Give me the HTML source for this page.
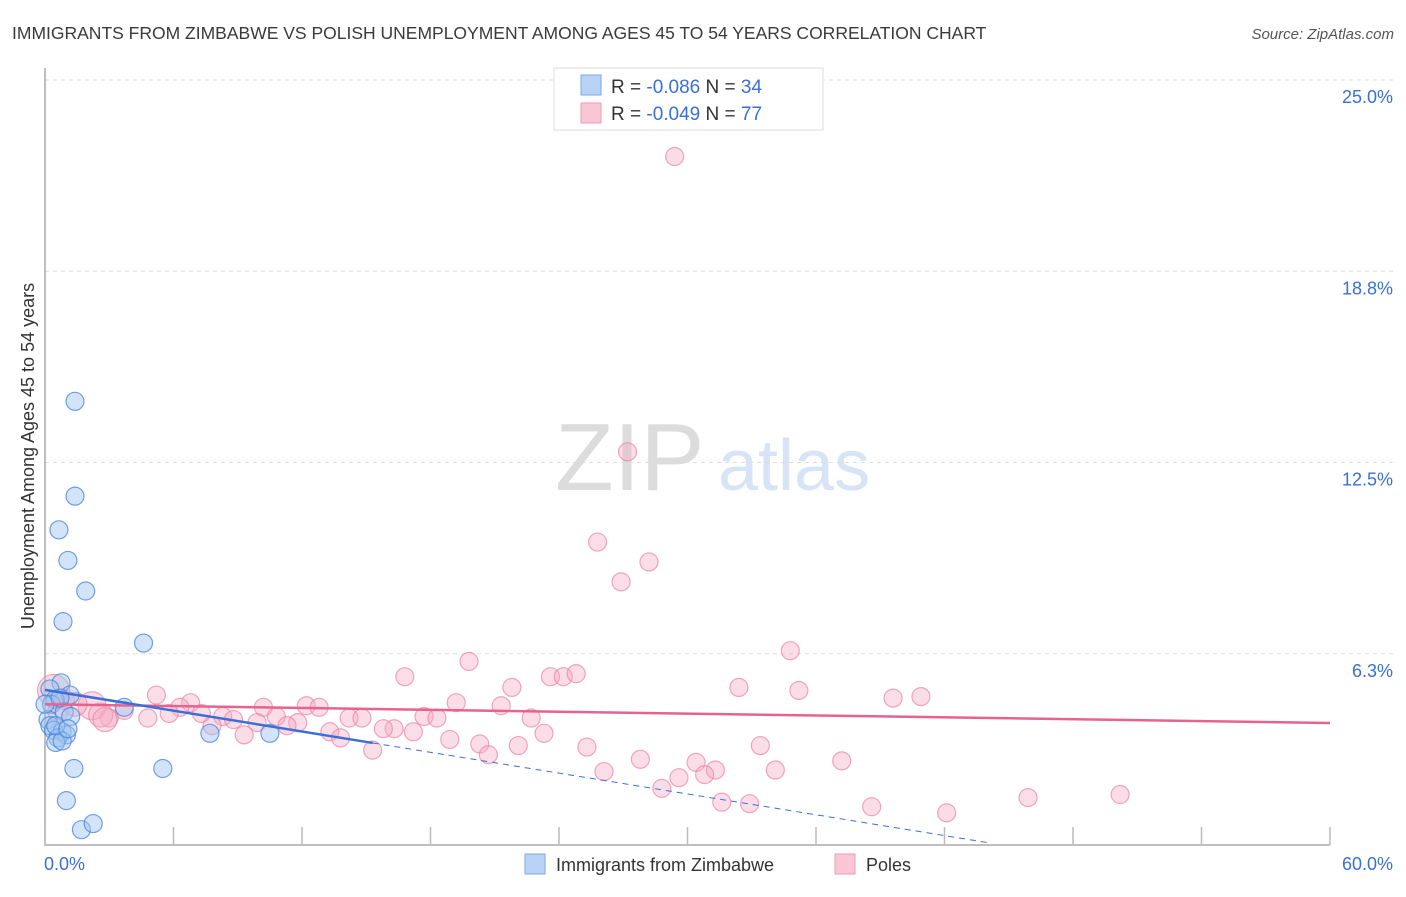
<!DOCTYPE html>
<html><head><meta charset="utf-8"><style>
body{margin:0;background:#fff;font-family:"Liberation Sans",sans-serif}
svg text{font-family:"Liberation Sans",sans-serif}
</style></head><body>
<svg id="chart" width="1406" height="892" xmlns="http://www.w3.org/2000/svg">
<text x="12" y="39" font-size="17.5" fill="#3a3a3a">IMMIGRANTS FROM ZIMBABWE VS POLISH UNEMPLOYMENT AMONG AGES 45 TO 54 YEARS CORRELATION CHART</text>
<text x="1394" y="39" font-size="15" fill="#555" text-anchor="end" font-style="italic">Source: ZipAtlas.com</text>
<g>
<text x="555" y="490" font-size="96" fill="#dcdcdc" font-family="Liberation Serif">ZIP</text>
<text x="718" y="490" font-size="72" fill="#d6e4f6">atlas</text>
</g>
<text transform="translate(34,456) rotate(-90)" font-size="18" fill="#333" text-anchor="middle">Unemployment Among Ages 45 to 54 years</text>
<g id="grid"></g>
<g id="pts"></g>
<g id="lines"></g>
<g>
<rect x="554" y="68" width="269" height="62" fill="#fff" stroke="#ddd"/>
<rect x="581" y="75" width="20" height="20" fill="#b8d3f5" stroke="#7aa8e6"/>
<rect x="581" y="103" width="20" height="20" fill="#f9c6d6" stroke="#ee9ab6"/>
<text x="611" y="93" font-size="19" fill="#333">R = <tspan fill="#3a6fd8">-0.086</tspan>   N = <tspan fill="#3a6fd8">34</tspan></text>
<text x="611" y="120" font-size="19" fill="#333">R = <tspan fill="#3a6fd8">-0.049</tspan>   N = <tspan fill="#3a6fd8">77</tspan></text>
</g>
<g>
<rect x="525" y="854" width="20" height="20" fill="#b8d3f5" stroke="#7aa8e6"/>
<text x="556" y="871" font-size="18" fill="#333">Immigrants from Zimbabwe</text>
<rect x="835" y="854" width="20" height="20" fill="#f9c6d6" stroke="#ee9ab6"/>
<text x="866" y="871" font-size="18" fill="#333">Poles</text>
</g>
</svg>
<script>
const yTicks=[6.25,12.5,18.75,25];
const yTickLabels=["6.3%","12.5%","18.8%","25.0%"];
const xTickVals=[0,6,12,18,24,30,36,42,48,54,60];
const blueX=[1.4,1.4,0.65,1.07,1.9,0.84,4.6,0.75,1.17,0.23,0.47,0.3,3.7,0.14,0.23,0.4,0.8,1.0,0.6,0.5,0.8,7.7,10.5,1.35,5.5,1.0,1.7,2.25,0.9,1.2,0,0.7,0.5,1.07];
const blueY=[14.5,11.4,10.3,9.3,8.3,7.3,6.6,5.3,4.9,5.1,4.75,4.6,4.5,4.1,3.9,3.75,3.7,3.6,3.5,3.35,3.4,3.65,3.65,2.5,2.5,1.45,0.5,0.7,4.35,4.2,4.6,4.8,3.9,3.8];
const pinkX=[29.4,27.2,25.8,28.2,26.9,19.8,34.8,16.8,23.6,24.2,24.8,21.8,32.4,35.2,39.6,40.9,19.2,21.3,5.2,6.8,6.3,10.2,12.2,12.8,2.2,3.7,5.8,7.3,8.3,10.8,11.8,14.2,14.8,17.7,18.3,22.7,4.8,8.8,9.9,11.3,7.8,3.0,16.3,17.2,15.8,13.3,9.3,13.8,23.3,18.9,20.3,22.1,15.3,25.3,20.7,27.8,30.4,33.4,37.2,26.1,31.3,30.8,34.1,29.6,28.8,31.6,32.9,38.6,42.1,45.9,50.2,0.4,1.4,2.6,0.9,0.6,2.8];
const pinkY=[22.5,12.85,9.9,9.25,8.6,6.0,6.35,5.5,5.5,5.5,5.6,5.15,5.15,5.05,4.8,4.85,4.65,4.55,4.9,4.65,4.5,4.5,4.55,4.5,4.55,4.4,4.3,4.3,4.2,4.2,4.0,4.15,4.15,4.2,4.15,4.15,4.15,4.1,4.0,3.9,3.9,4.15,3.8,3.7,3.8,3.7,3.6,3.5,3.65,3.45,3.3,3.25,3.1,3.2,2.95,2.8,2.7,3.25,2.75,2.4,2.45,2.3,2.45,2.2,1.85,1.4,1.35,1.25,1.05,1.55,1.65,5.05,4.6,4.25,4.75,4.35,4.1];
const pinkR=[9,9,9,9,9,9,9,9,9,9,9,9,9,9,9,9,9,9,9,9,9,9,9,9,14,9,9,9,9,9,9,9,9,9,9,9,9,9,9,9,9,9,9,9,9,9,9,9,9,9,9,9,9,9,9,9,9,9,9,9,9,9,9,9,9,9,9,9,9,9,9,16,12,12,10,10,12];
const blueTrend=[5.07,-0.1134];
const pinkTrend=[4.6,-0.0102];
const NS="http://www.w3.org/2000/svg";
const X0=45,X1=1330,Y0=845,Y25=80;
function sx(v){return X0+v*(X1-X0)/60;}
function sy(v){return Y0-v*(Y0-Y25)/25;}
function mk(tag,attrs,parent){const e=document.createElementNS(NS,tag);for(const k in attrs)e.setAttribute(k,attrs[k]);parent.appendChild(e);return e;}
const grid=document.getElementById('grid');
yTicks.forEach((t,i)=>{
 const l=mk('line',{x1:X0,x2:1395,y1:sy(t),y2:sy(t),stroke:'#ddd','stroke-dasharray':'4,4'},grid);
 
 
 const tx=mk('text',{x:1393,y:sy(t)+23,'font-size':18,fill:'#3a6fd8','text-anchor':'end'},grid);
 tx.textContent=yTickLabels[i];
 
 
});
const ax=mk('path',{d:`M${X0},68 V${Y0} H${X1}`,fill:'none',stroke:'#aaa','stroke-width':1.5},grid);


xTickVals.forEach(t=>{
 const l=mk('line',{x1:sx(t),x2:sx(t),y1:Y0-18,y2:Y0,stroke:'#bbb','stroke-width':1.5},grid);
 
 
});
const xl0=mk('text',{x:44,y:870,'font-size':18,fill:'#3a6fd8'},grid);xl0.textContent='0.0%';


const xl1=mk('text',{x:1393,y:870,'font-size':18,fill:'#3a6fd8','text-anchor':'end'},grid);xl1.textContent='60.0%';


const pts=document.getElementById('pts');
pinkX.forEach((v,i)=>{
 const c=mk('circle',{cx:sx(v),cy:sy(pinkY[i]),r:pinkR[i],fill:'rgba(246,170,195,0.4)',stroke:'rgba(235,130,165,0.7)','stroke-width':1.2},pts);
 
 
});
blueX.forEach((v,i)=>{
 const c=mk('circle',{cx:sx(v),cy:sy(blueY[i]),r:9,fill:'rgba(160,196,240,0.45)',stroke:'rgba(70,130,220,0.75)','stroke-width':1.2},pts);
 
 
});
const lines=document.getElementById('lines');
const pl=mk('line',{x1:sx(0),y1:sy(pinkTrend[0]),x2:sx(60),y2:sy(pinkTrend[0]+pinkTrend[1]*60),stroke:'#e8628e','stroke-width':2.5},lines);


const bEnd=15.3, bDash=44.1;
const bl=mk('line',{x1:sx(0),y1:sy(blueTrend[0]),x2:sx(bEnd),y2:sy(blueTrend[0]+blueTrend[1]*bEnd),stroke:'#3a6fd8','stroke-width':2.5},lines);


const bd=mk('line',{x1:sx(bEnd),y1:sy(blueTrend[0]+blueTrend[1]*bEnd),x2:sx(bDash),y2:sy(blueTrend[0]+blueTrend[1]*bDash),stroke:'#3a6fd8','stroke-width':1,'stroke-dasharray':'6,5'},lines);


</script>
</body></html>
